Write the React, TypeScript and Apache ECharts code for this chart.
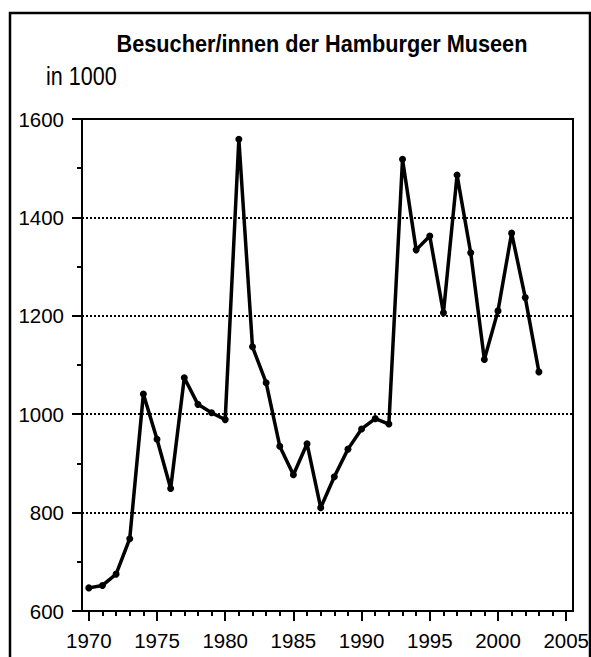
import React, { useEffect, useRef } from "react";
import * as echarts from "echarts";

const years = [1970, 1971, 1972, 1973, 1974, 1975, 1976, 1977, 1978, 1979, 1980, 1981, 1982, 1983, 1984, 1985, 1986, 1987, 1988, 1989, 1990, 1991, 1992, 1993, 1994, 1995, 1996, 1997, 1998, 1999, 2000, 2001, 2002, 2003];
const visitors = [647, 652, 675, 747, 1041, 949, 849, 1074, 1020, 1003, 989, 1559, 1137, 1064, 935, 877, 940, 810, 873, 929, 970, 991, 980, 1518, 1334, 1362, 1206, 1486, 1328, 1111, 1210, 1368, 1237, 1086];
const xMajorTicks = [1970, 1975, 1980, 1985, 1990, 1995, 2000, 2005];
const xMinorTicks = Array.from({ length: 36 }, (_, i) => 1970 + i);
const titleText = "Besucher/innen der Hamburger Museen";
const unitText = "in 1000";

const SANS = '"Liberation Sans", Arial, sans-serif';

export default function App() {
  const ref = useRef<HTMLDivElement>(null);
  useEffect(() => {
    document.body.style.margin = "0";
    const chart = echarts.init(ref.current!, null, { renderer: "svg" });
    const xBase = {
      type: "value",
      min: 1969.5,
      max: 2005.5,
      position: "bottom",
      splitLine: { show: false },
    };
    chart.setOption({
      animation: false,
      backgroundColor: "#fff",
      grid: {
        left: 82,
        right: 18,
        top: 119,
        bottom: 46,
        show: true,
        borderColor: "#000",
        borderWidth: 2,
        containLabel: false,
        outerBoundsMode: "none",
      },
      xAxis: [
        {
          ...xBase,
          axisLine: { show: true, lineStyle: { color: "#000", width: 2 } },
          axisTick: { show: true, customValues: xMinorTicks, length: 5, lineStyle: { color: "#000", width: 2 } },
          axisLabel: {
            show: true,
            customValues: xMajorTicks,
            formatter: (v: number) => String(v),
            color: "#000",
            fontFamily: SANS,
            fontSize: 20.5,
            margin: 19,
          },
        },
        {
          ...xBase,
          axisLine: { show: false },
          axisTick: { show: true, customValues: xMajorTicks, length: 10, lineStyle: { color: "#000", width: 2 } },
          axisLabel: { show: false },
        },
      ],
      yAxis: {
        type: "value",
        min: 600,
        max: 1600,
        interval: 200,
        axisLine: { show: true, lineStyle: { color: "#000", width: 2 } },
        axisTick: { show: true, length: 10, lineStyle: { color: "#000", width: 2 } },
        minorTick: { show: true, splitNumber: 2, length: 5, lineStyle: { color: "#000", width: 2 } },
        splitLine: { show: true, lineStyle: { color: "#000", width: 2, type: [2, 2] } },
        axisLabel: {
          formatter: (v: number) => String(v),
          color: "#000",
          fontFamily: SANS,
          fontSize: 20.5,
          margin: 18,
        },
      },
      graphic: [
        {
          type: "rect",
          shape: { x: 10, y: 13, width: 580, height: 700 },
          style: { fill: "none", stroke: "#000", lineWidth: 2.5 },
          silent: true,
        },
        {
          type: "text",
          x: 322,
          y: 43.7,
          scaleX: 0.904,
          style: {
            text: titleText,
            x: 0,
            y: 0,
            align: "center",
            verticalAlign: "middle",
            fontFamily: SANS,
            fontWeight: "bold",
            fontSize: 24,
            fill: "#000",
          },
        },
        {
          type: "text",
          x: 46,
          y: 76,
          scaleX: 0.862,
          style: {
            text: unitText,
            x: 0,
            y: 0,
            align: "left",
            verticalAlign: "middle",
            fontFamily: SANS,
            fontSize: 25,
            fill: "#000",
          },
        },
      ],
      series: [
        {
          type: "line",
          xAxisIndex: 0,
          data: years.map((y, i) => [y, visitors[i]]),
          symbol: "circle",
          symbolSize: 7,
          itemStyle: { color: "#000" },
          lineStyle: { color: "#000", width: 3.5 },
        },
      ],
    });
    return () => chart.dispose();
  }, []);
  return <div ref={ref} style={{ width: 591, height: 657 }} />;
}
